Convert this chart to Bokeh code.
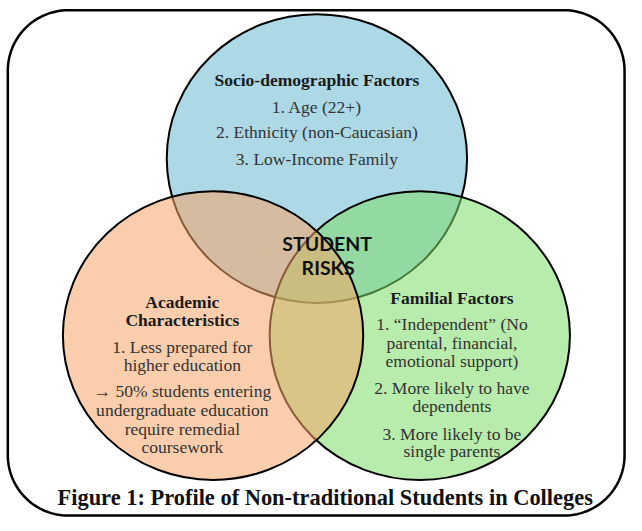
import numpy as np
from bokeh.plotting import figure
from bokeh.models import Range1d, ColumnDataSource
from bokeh.core.properties import value
from bokeh.embed import file_html
from bokeh.resources import INLINE

# ---------------- data (texts of the diagram) ----------------
set_names = ["Socio-demographic Factors", "Familial Factors", "Academic Characteristics"]
set_colors = ["#6ab8d2", "#7cdc68", "#f6a668"]   # drawn in this order

socio_title = ["Socio-demographic Factors"]
socio_items = ["1. Age (22+)", "2. Ethnicity (non-Caucasian)", "3. Low-Income Family"]

academic_title = ["Academic", "Characteristics"]
academic_items = ["1. Less prepared for", "higher education",
                  "\u2192 50% students entering", "undergraduate education",
                  "require remedial", "coursework"]

familial_title = ["Familial Factors"]
familial_items = ["1. \u201cIndependent\u201d (No", "parental, financial,",
                  "emotional support)", "2. More likely to have", "dependents",
                  "3. More likely to be", "single parents"]

center_label = ["STUDENT", "RISKS"]
caption = ["Figure 1: Profile of Non-traditional Students in Colleges"]

# ---------------- layout (reference pixel space, y downwards) ----------------
W, H = 642, 531
FW, FH = 626, 518
S = FW / W

ell_x = [324.5, 430.0, 218.0]
ell_y = [162.0, 343.5, 343.5]
ell_w, ell_h = 308, 296

socio_y = [82, 109, 135, 162]
academic_y = [309, 328, 355, 374, 400, 420, 439, 458]
familial_y = [305, 332, 351, 370, 397, 416, 444, 462]
center_y = [249, 274]
caption_y = [509]

p = figure(width=FW, height=FH, x_range=Range1d(0, W), y_range=Range1d(H, 0),
           output_backend="svg", toolbar_location=None, min_border=0)
p.axis.visible = False
p.grid.visible = False
p.outline_line_color = None
p.background_fill_color = "white"
p.border_fill_color = "white"

# rounded frame
x0, x1, y0, y1, r = 7.5, 640.0, 10.0, 528.0, 62.0
def arc(cx, cy, a0, a1):
    t = np.linspace(np.radians(a0), np.radians(a1), 30)
    return cx + r * np.cos(t), cy + r * np.sin(t)
parts = [arc(x1 - r, y0 + r, -90, 0), arc(x1 - r, y1 - r, 0, 90),
         arc(x0 + r, y1 - r, 90, 180), arc(x0 + r, y0 + r, 180, 270)]
fx = np.concatenate([q[0] for q in parts] + [parts[0][0][:1]])
fy = np.concatenate([q[1] for q in parts] + [parts[0][1][:1]])
p.line(fx, fy, line_color="#000000", line_width=2.5)

# translucent ellipses, each drawn fully before the next
for i in range(len(set_names)):
    p.ellipse(x=[ell_x[i]], y=[ell_y[i]], width=ell_w, height=ell_h,
              fill_color=set_colors[i], fill_alpha=0.55,
              line_color="#000000", line_width=2)

def fs(px):
    return value(f"{px * S:.2f}px")

serif = value("Liberation Serif")

def put(lines, xs, ys, size, bold, color, font=serif):
    src = ColumnDataSource(dict(x=xs, y=ys, t=lines))
    p.text(x="x", y="y", text="t", source=src, text_font=font,
           text_font_size=fs(size), text_font_style="bold" if bold else "normal",
           text_color=color, text_align="center", text_baseline="middle")

put(socio_title, [324.5], socio_y[:1], 18, True, "#1a1a1a")
put(socio_items, [324.5] * 3, socio_y[1:], 18, False, "#333333")

put(academic_title, [186.5] * 2, academic_y[:2], 18, True, "#1a1a1a")
put(academic_items, [186.5] * 6, academic_y[2:], 18, False, "#333333")

put(familial_title, [463] * 1, familial_y[:1], 18, True, "#1a1a1a")
put(familial_items, [463] * 7, familial_y[1:], 18, False, "#333333")

put(center_label, [335, 336], center_y, 20, True, "#111111", font=value("Lato"))

put(caption, [333], caption_y, 23, True, "#111111")

open("out.html", "w").write(file_html(p, INLINE))
